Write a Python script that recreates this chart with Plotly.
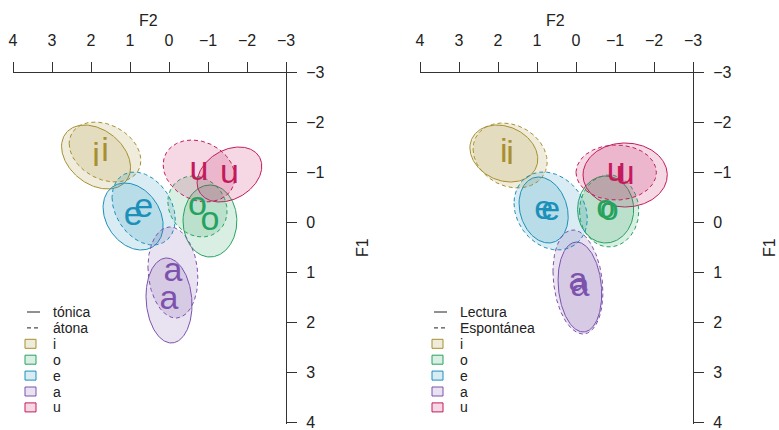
import numpy as np
import plotly.graph_objects as go

W, H = 779, 430

# Vowel categories and their colours
vowels = ["i", "o", "e", "a", "u"]
vowel_colors = ["#a88f2f", "#25a35e", "#1b90ba", "#7c52ad", "#c41a5c"]

# Axis ticks
f2_ticks = [4, 3, 2, 1, 0, -1, -2, -3]
f1_ticks = [-3, -2, -1, 0, 1, 2, 3, 4]

# Panel 1: tónica (solid) vs átona (dashed); normalised F2/F1 means, spreads, correlation
ton_f2 = [1.87, -1.05, 0.92, 0.00, -1.55]
ton_f1 = [-1.30, -0.02, -0.11, 1.57, -0.95]
ton_s2 = [0.885, 0.69, 0.77, 0.59, 0.83]
ton_s1 = [0.64, 0.72, 0.67, 0.85, 0.55]
ton_r = [-0.33, 0.0, -0.27, -0.10, 0.30]

ato_f2 = [1.64, -0.73, 0.65, -0.10, -0.77]
ato_f1 = [-1.40, -0.31, -0.27, 1.01, -1.02]
ato_s2 = [0.92, 0.76, 0.81, 0.64, 0.92]
ato_s1 = [0.60, 0.61, 0.73, 0.91, 0.62]
ato_r = [-0.28, -0.15, -0.30, -0.12, -0.20]

# Panel 2: Lectura (solid) vs Espontánea (dashed)
lec_f2 = [1.85, -0.76, 0.83, -0.10, -1.26]
lec_f1 = [-1.37, -0.25, -0.24, 1.30, -0.94]
lec_s2 = [0.87, 0.72, 0.63, 0.56, 1.08]
lec_s1 = [0.57, 0.67, 0.66, 0.90, 0.64]
lec_r = [-0.20, 0.0, -0.20, -0.15, 0.0]

esp_f2 = [1.69, -0.85, 0.65, -0.05, -1.03]
esp_f1 = [-1.33, -0.22, -0.22, 1.20, -0.99]
esp_s2 = [0.95, 0.76, 0.94, 0.64, 1.03]
esp_s1 = [0.65, 0.72, 0.78, 1.04, 0.55]
esp_r = [-0.20, 0.0, -0.20, -0.20, 0.0]

DASH = "4px,3px"
panel_groups = [
    [("tónica", "solid", ton_f2, ton_f1, ton_s2, ton_s1, ton_r),
     ("átona", DASH, ato_f2, ato_f1, ato_s2, ato_s1, ato_r)],
    [("Lectura", "solid", lec_f2, lec_f1, lec_s2, lec_s1, lec_r),
     ("Espontánea", DASH, esp_f2, esp_f1, esp_s2, esp_s1, esp_r)],
]

FILL_ALPHA = 0.17


def rgba(hex_color, alpha):
    h = hex_color.lstrip("#")
    r, g, b = int(h[0:2], 16), int(h[2:4], 16), int(h[4:6], 16)
    return f"rgba({r},{g},{b},{alpha})"


def ellipse(cx, cy, sx, sy, r, n=240):
    t = np.linspace(0, 2 * np.pi, n)
    phi = np.arccos(r)
    return cx + sx * np.cos(t), cy + sy * np.cos(t - phi)


# Layout geometry (pixels of the 779x430 canvas)
x_range = [4, -3.282]
y_range = [4.03, -3.2]
x_domains = [[13 / W, 297 / W], [420 / W, 704 / W]]
y_domain = [(H - 423.5) / H, (H - 62) / H]


def data_to_paper_x(panel, x):
    d0, d1 = x_domains[panel]
    return d0 + (x - x_range[0]) / (x_range[1] - x_range[0]) * (d1 - d0)


def data_to_paper_y(y):
    return y_domain[0] + (y - y_range[0]) / (y_range[1] - y_range[0]) * (y_domain[1] - y_domain[0])


fig = go.Figure()

for p, groups in enumerate(panel_groups):
    xa = "x" if p == 0 else "x2"
    ya = "y" if p == 0 else "y2"
    # confidence ellipses
    for name, dash, f2, f1, s2, s1, rr in groups:
        for k, v in enumerate(vowels):
            ex, ey = ellipse(f2[k], f1[k], s2[k], s1[k], rr[k])
            fig.add_trace(go.Scatter(
                x=ex, y=ey, mode="lines", fill="toself",
                fillcolor=rgba(vowel_colors[k], FILL_ALPHA),
                line=dict(color=vowel_colors[k], width=1, dash=dash),
                xaxis=xa, yaxis=ya, showlegend=False, hoverinfo="skip",
            ))
    # vowel labels at group means
    for name, dash, f2, f1, s2, s1, rr in groups:
        fig.add_trace(go.Scatter(
            x=f2, y=f1, mode="text", text=vowels,
            textposition="middle center",
            textfont=dict(size=34, color=vowel_colors, family="Liberation Sans, Arial, sans-serif"),
            xaxis=xa, yaxis=ya, showlegend=False, hoverinfo="skip", cliponaxis=False,
        ))

axis_common = dict(
    showgrid=False, zeroline=False, showline=True, linecolor="#333333", linewidth=1,
    ticks="outside", ticklen=10, tickcolor="#333333", tickwidth=1,
    tickfont=dict(size=16, color="#222222", family="Liberation Sans, Arial, sans-serif"),
    ticklabeloverflow="allow", automargin=False, fixedrange=True,
)

fig.update_layout(
    width=W, height=H, margin=dict(l=0, r=0, t=0, b=0),
    paper_bgcolor="white", plot_bgcolor="white", showlegend=False,
    font=dict(family="Liberation Sans, Arial, sans-serif", color="#222222"),
    xaxis=dict(domain=x_domains[0], range=x_range, side="top", anchor="free",
               position=data_to_paper_y(-3), tickvals=f2_ticks, ticklabelstandoff=10,
               **axis_common),
    yaxis=dict(domain=y_domain, range=y_range, side="right", anchor="free",
               position=data_to_paper_x(0, -3), tickvals=f1_ticks, ticklabelstandoff=6,
               **axis_common),
    xaxis2=dict(domain=x_domains[1], range=x_range, side="top", anchor="free",
                position=data_to_paper_y(-3), tickvals=f2_ticks, ticklabelstandoff=10,
                **axis_common),
    yaxis2=dict(domain=y_domain, range=y_range, side="right", anchor="free",
                position=data_to_paper_x(1, -3), tickvals=f1_ticks, ticklabelstandoff=6,
                **axis_common),
)

annotations = []
shapes = []

# Axis titles
for p in range(2):
    annotations.append(dict(
        text="F2", xref="paper", yref="paper",
        x=data_to_paper_x(p, 0.52), y=(H - 20.5) / H,
        showarrow=False, xanchor="center", yanchor="middle",
        font=dict(size=16, color="#222222"),
    ))
    annotations.append(dict(
        text="F1", xref="paper", yref="paper",
        x=data_to_paper_x(p, -4.95), y=(H - 248) / H,
        showarrow=False, xanchor="center", yanchor="middle", textangle=-90,
        font=dict(size=16, color="#222222"),
    ))

# Legends
legend_left = [25, 432]
row0, row_step = 312, 15.9
for p, groups in enumerate(panel_groups):
    lx = legend_left[p]
    rows = [(g[0], "line", g[1], "#222222") for g in groups] + \
           [(v, "box", None, c) for v, c in zip(vowels, vowel_colors)]
    for j, (label, kind, dash, col) in enumerate(rows):
        cy = row0 + j * row_step
        if kind == "line":
            shapes.append(dict(
                type="line", xref="paper", yref="paper",
                x0=(lx + 2) / W, x1=(lx + 15) / W, y0=(H - cy) / H, y1=(H - cy) / H,
                line=dict(color=col, width=1, dash=dash),
            ))
        else:
            shapes.append(dict(
                type="rect", xref="paper", yref="paper",
                x0=lx / W, x1=(lx + 11) / W, y0=(H - cy - 4.5) / H, y1=(H - cy + 4.5) / H,
                line=dict(color=col, width=1), fillcolor=rgba(col, FILL_ALPHA),
            ))
        annotations.append(dict(
            text=label, xref="paper", yref="paper",
            x=(lx + 26) / W, y=(H - cy) / H, showarrow=False,
            xanchor="left", yanchor="middle", font=dict(size=14, color="#222222"),
        ))

fig.update_layout(annotations=annotations, shapes=shapes)

fig.write_html("out.html")
